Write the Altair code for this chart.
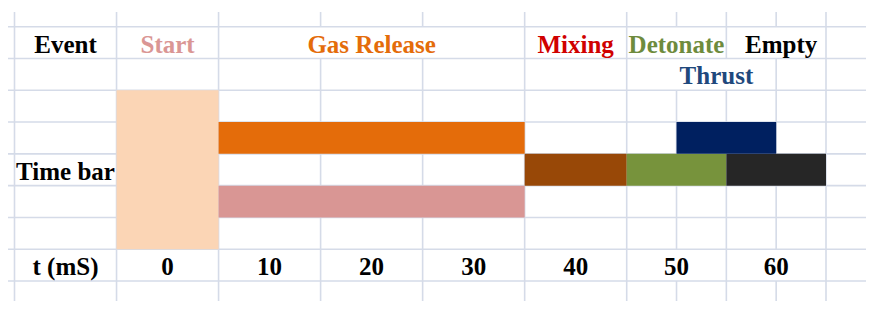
import altair as alt
import pandas as pd

W, H = 858, 293

# ---- data -------------------------------------------------------------
bar_phase = ["Start", "Gas Release", "Gas Release", "Mixing", "Detonate", "Empty", "Thrust"]
bar_t0 = [-5, 5, 5, 35, 45, 55, 50]
bar_t1 = [5, 35, 35, 45, 55, 65, 60]
bar_r0 = [2, 3, 5, 4, 4, 4, 3]
bar_r1 = [7, 4, 6, 5, 5, 5, 4]
bar_color = ["#FBD5B5", "#E46C0A", "#D99694", "#984807", "#77933C", "#262626", "#002060"]

hdr_text = ["Event", "Start", "Gas Release", "Mixing", "Detonate", "Empty", "Thrust"]
hdr_t = [-10, 0, 20, 40, 50, 60.5, 54]
hdr_row = [0, 0, 0, 0, 0, 0, 1]
hdr_color = ["#000000", "#DA9694", "#E46C0A", "#D00000", "#6E8B3D", "#000000", "#1F497D"]

row_label = ["Time bar", "t (mS)"]
row_label_t = [-10, -10]
row_label_row = [4, 7]

tick_values = [0, 10, 20, 30, 40, 50, 60]
tick_row = 7

grid_cols = [-15, -5, 5, 15, 25, 35, 45, 50, 55, 60, 65]
grid_rows = list(range(9))
hidden_cells = [(0, 15), (0, 25), (0, 50), (0, 60), (1, 50), (1, 55), (7, 50), (7, 60)]

# ---- scales -----------------------------------------------------------
x_dom = [-15.637, 45, 65, 69.014]
x_rng = [0, 618.7, 818, W]
r_top = -0.588
r_bot = r_top + H / 31.79
xs = alt.Scale(domain=x_dom, range=x_rng, nice=False, zero=False)
ys = alt.Scale(domain=[r_top, r_bot], range=[0, H], nice=False, zero=False)

# ---- tables -----------------------------------------------------------
bars = pd.DataFrame({"phase": bar_phase, "t0": bar_t0, "t1": bar_t1,
                     "r0": bar_r0, "r1": bar_r1, "color": bar_color})
hdr = pd.DataFrame({"text": hdr_text, "t": hdr_t,
                    "r": [r + 0.5 for r in hdr_row], "color": hdr_color})
rl = pd.DataFrame({"text": row_label, "t": row_label_t,
                   "r": [r + 0.5 for r in row_label_row]})
ticks = pd.DataFrame({"text": [str(v) for v in tick_values], "t": tick_values,
                      "r": [tick_row + 0.5] * len(tick_values)})
hlines = pd.DataFrame({"r": grid_rows})

segs = []
for c in grid_cols:
    for r in range(-1, 9):
        if (r, c) in hidden_cells:
            continue
        a = max(r, -0.462)
        b = min(r + 1, r_bot)
        segs.append({"t": c, "a": a, "b": b})
vlines = pd.DataFrame(segs)

grid_color = "#D5DBE8"

h_layer = alt.Chart(hlines).mark_rule(color=grid_color, strokeWidth=1.6).encode(
    y=alt.Y("r:Q", scale=ys, axis=None),
    x=alt.value(0), x2=alt.value(W))

v_layer = alt.Chart(vlines).mark_rule(color=grid_color, strokeWidth=1.6).encode(
    x=alt.X("t:Q", scale=xs, axis=None),
    y=alt.Y("a:Q", scale=ys, axis=None), y2="b:Q")

bar_layer = alt.Chart(bars).mark_rect().encode(
    x=alt.X("t0:Q", scale=xs, axis=None), x2="t1:Q",
    y=alt.Y("r0:Q", scale=ys, axis=None), y2="r1:Q",
    color=alt.Color("color:N", scale=None))

txt = dict(font="Liberation Serif", fontWeight="bold", fontSize=25,
           baseline="middle", align="center", dy=2)

hdr_layer = alt.Chart(hdr).mark_text(**txt).encode(
    x=alt.X("t:Q", scale=xs, axis=None),
    y=alt.Y("r:Q", scale=ys, axis=None),
    text="text:N",
    color=alt.Color("color:N", scale=None))

rl_layer = alt.Chart(rl).mark_text(color="#000000", **txt).encode(
    x=alt.X("t:Q", scale=xs, axis=None),
    y=alt.Y("r:Q", scale=ys, axis=None),
    text="text:N")

tick_layer = alt.Chart(ticks).mark_text(color="#000000", **txt).encode(
    x=alt.X("t:Q", scale=xs, axis=None),
    y=alt.Y("r:Q", scale=ys, axis=None),
    text="text:N")

chart = alt.layer(h_layer, v_layer, bar_layer, hdr_layer, rl_layer, tick_layer).properties(
    width=W, height=H, padding=0, autosize=alt.AutoSizeParams(type="none")
).configure(background="white").configure_view(stroke=None)

chart.save("out.html", embed_options={"renderer": "svg", "actions": False})
